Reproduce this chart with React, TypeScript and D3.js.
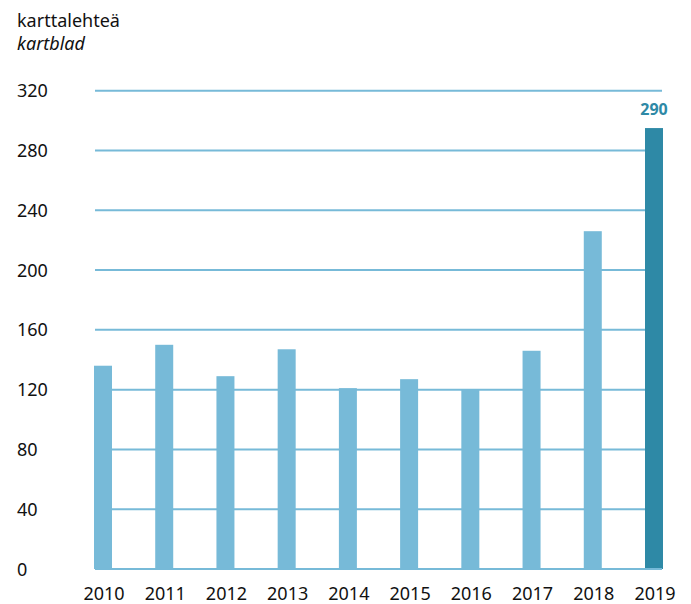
import React from "react";
import * as d3 from "d3";

const years = ["2010", "2011", "2012", "2013", "2014", "2015", "2016", "2017", "2018", "2019"];
const values = [136, 150, 129, 147, 121, 127, 120, 146, 226, 295];
const yTicks = [0, 40, 80, 120, 160, 200, 240, 280, 320];
const highlightLabel = "290";
const titleLine1 = "karttalehteä";
const titleLine2 = "kartblad";

const W = 691;
const H = 604;
const FONT = "'Noto Sans', 'Open Sans', sans-serif";
const LIGHT = "#77bad8";
const DARK = "#2e89a6";
const TEXT = "#111";

export default function App() {
  const x = d3.scaleBand<string>().domain(years).range([94, 663]).paddingInner(0.706).paddingOuter(0);
  const y = d3.scaleLinear().domain([0, 320]).range([569, 90.7]);
  const gridX1 = 95;
  const gridX2 = 662;

  return (
    <svg width={W} height={H} style={{ position: "absolute", left: 0, top: 0, background: "#fff" }} fontFamily={FONT}>
      <text x={17} y={27} fontSize={18} fill={TEXT}>{titleLine1}</text>
      <text x={17} y={50} fontSize={18} fontStyle="italic" fill={TEXT}>{titleLine2}</text>
      {yTicks.map((t) => (
        <g key={t}>
          <line x1={gridX1} x2={gridX2} y1={y(t)} y2={y(t)} stroke={LIGHT} strokeWidth={2} />
          <text x={17} y={y(t) + 6.5} fontSize={18} fill={TEXT}>{t}</text>
        </g>
      ))}
      {years.map((yr, i) => (
        <rect
          key={yr}
          x={x(yr)}
          y={y(values[i])}
          width={x.bandwidth()}
          height={y(0) - y(values[i])}
          fill={i === years.length - 1 ? DARK : LIGHT}
        />
      ))}
      <line x1={gridX1} x2={gridX2} y1={y(0)} y2={y(0)} stroke={LIGHT} strokeWidth={2} />
      {years.map((yr) => (
        <text key={yr} x={(x(yr) as number) + x.bandwidth() / 2 + 1} y={600} fontSize={18} textAnchor="middle" fill={TEXT}>
          {yr}
        </text>
      ))}
      <text
        x={(x(years[years.length - 1]) as number) + x.bandwidth() / 2}
        y={115}
        fontSize={16}
        fontWeight="bold"
        textAnchor="middle"
        fill={DARK}
      >
        {highlightLabel}
      </text>
    </svg>
  );
}
